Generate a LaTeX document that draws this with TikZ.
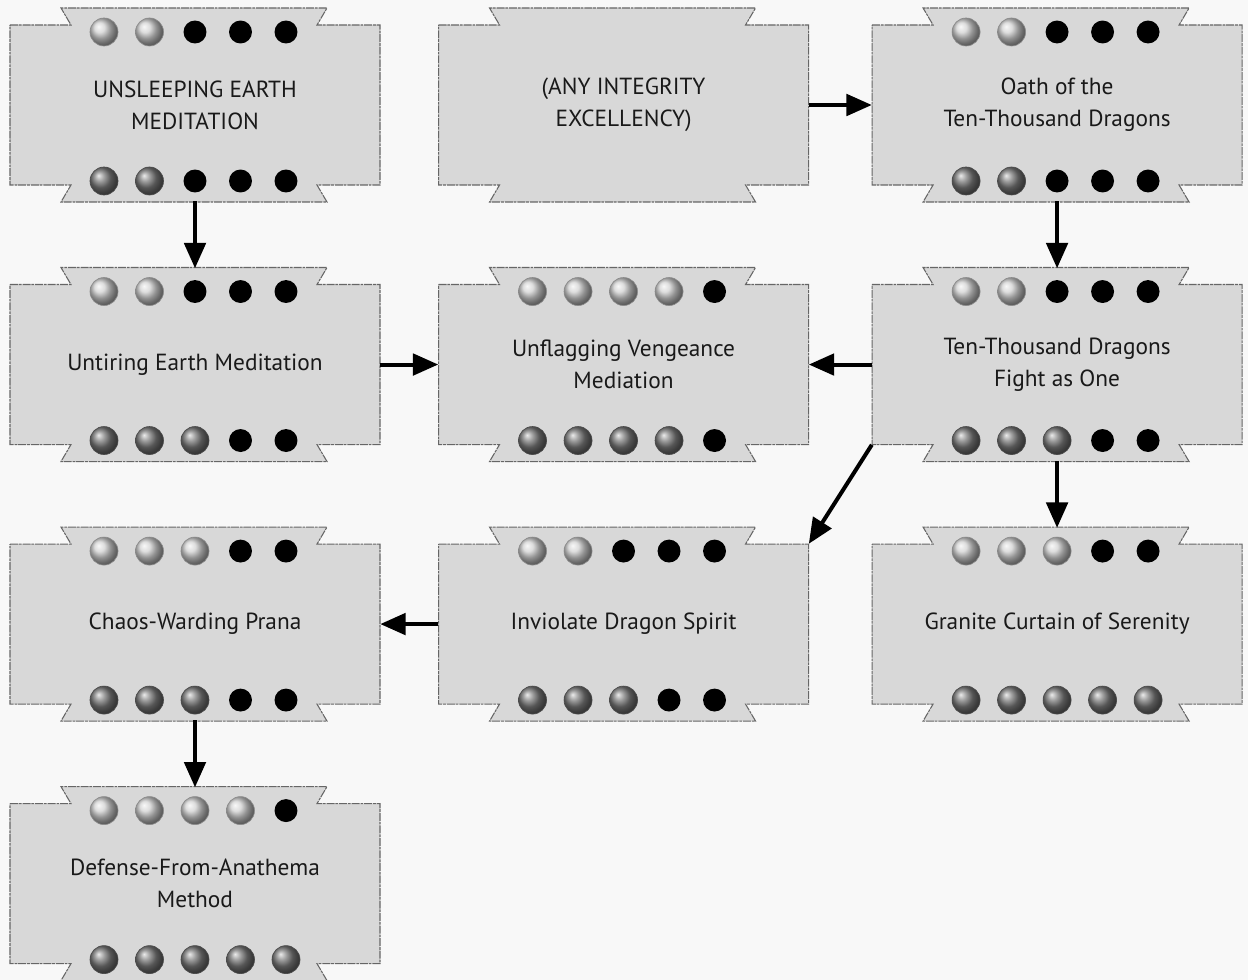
\documentclass[tikz,border=0pt]{standalone}
\usepackage{fontspec}
\setmainfont{PT Sans}
\usetikzlibrary{arrows.meta,positioning,calc,backgrounds}
\definecolor{paper}{HTML}{F8F8F8}
\definecolor{scrollgrey}{HTML}{D8D8D8}
\definecolor{edgegrey}{HTML}{666666}

% banner outline behind a charm node (units are px of the layout)
\newcommand\scrollframe[1]{%
  \begin{pgfonlayer}{background}
    \draw[scrolledge, shift={(#1.center)}]
      (-185,-80) -- (-124,-80) -- (-134,-97) -- (132,-97) -- (122,-80)
      -- (185,-80) -- (185,80) -- (122,80) -- (132,97) -- (-134,97)
      -- (-124,80) -- (-185,80) -- cycle;
  \end{pgfonlayer}}

% five dots on top and bottom: #2 and #3 are the filled ones
\newcommand\charmdots[3]{%
  \foreach \i in {1,...,5}{%
    \pgfmathsetmacro\dx{(\i-3)*45.5}
    \ifnum\i>#2 \fill[blackdot] ($(#1.center)+(\dx,-73)$) circle (8.6pt);
    \else \shadedraw[topdot] ($(#1.center)+(\dx,-73)$) circle (10.5pt); \fi
    \ifnum\i>#3 \fill[blackdot] ($(#1.center)+(\dx,76)$) circle (8.6pt);
    \else \shadedraw[botdot] ($(#1.center)+(\dx,76)$) circle (10.5pt); \fi
  }}

\begin{document}
\begin{tikzpicture}[
  x=0.75pt, y=-0.75pt,
  charm/.style={minimum width=277.5pt, minimum height=144pt, inner sep=0pt,
                align=center, font=\fontsize{17.5}{24}\selectfont, text=black!90},
  scrolledge/.style={fill=scrollgrey, draw=edgegrey, line width=0.8pt,
                     dash pattern=on 6pt off 0.7pt on 2pt off 0.7pt},
  topdot/.style={shading=ball, ball color=black!18, draw=black!45, line width=0.5pt},
  botdot/.style={shading=ball, ball color=black!52, draw=black!70, line width=0.5pt},
  blackdot/.style={black},
  link/.style={-{Triangle[length=19pt,width=16pt]}, line width=3pt, black},
]
  \begin{pgfonlayer}{background}
    \fill[paper] (0,0) rectangle (1248,980);
  \end{pgfonlayer}
  \useasboundingbox (0,0) rectangle (1248,980);

  %% -- row 1 --
  \node[charm] (unsleeping) at (195,105) {UNSLEEPING EARTH\\MEDITATION};
  \node[charm, right=43.5pt of unsleeping] (anyint) {(ANY INTEGRITY\\EXCELLENCY)};
  \node[charm, right=47.25pt of anyint] (oath) {Oath of the\\Ten-Thousand Dragons};

  %% -- row 2 --
  \node[charm, below=50.25pt of unsleeping] (untiring) {Untiring Earth Meditation};
  \node[charm, below=50.25pt of anyint] (unflagging) {Unflagging Vengeance\\Mediation};
  \node[charm, below=50.25pt of oath] (tenk) {Ten-Thousand Dragons\\Fight as One};

  %% -- row 3 --
  \node[charm, below=50.25pt of untiring] (chaos) {Chaos-Warding Prana};
  \node[charm, below=50.25pt of unflagging] (inviolate) {Inviolate Dragon Spirit};
  \node[charm, below=50.25pt of tenk] (granite) {Granite Curtain of Serenity};

  %% -- row 4 --
  \node[charm, below=50.25pt of chaos] (defense) {Defense-From-Anathema\\Method};

  \foreach \n in {unsleeping,anyint,oath,untiring,unflagging,tenk,
                  chaos,inviolate,granite,defense}{\scrollframe{\n}}

  \charmdots{unsleeping}{2}{2}
  \charmdots{oath}{2}{2}
  \charmdots{untiring}{2}{3}
  \charmdots{unflagging}{4}{4}
  \charmdots{tenk}{2}{3}
  \charmdots{chaos}{3}{3}
  \charmdots{inviolate}{2}{3}
  \charmdots{granite}{3}{5}
  \charmdots{defense}{4}{5}

  %% -- prerequisites --
  \draw[link] (unsleeping.south) -- (untiring.north);
  \draw[link] (anyint.east) -- (oath.west);
  \draw[link] (oath.south) -- (tenk.north);
  \draw[link] (untiring.east) -- (unflagging.west);
  \draw[link] (tenk.west) -- (unflagging.east);
  \draw[link] ([yshift=12pt]tenk.south west) -- ([yshift=-12pt]inviolate.north east);
  \draw[link] (tenk.south) -- (granite.north);
  \draw[link] (inviolate.west) -- (chaos.east);
  \draw[link] (chaos.south) -- (defense.north);
\end{tikzpicture}
\end{document}
